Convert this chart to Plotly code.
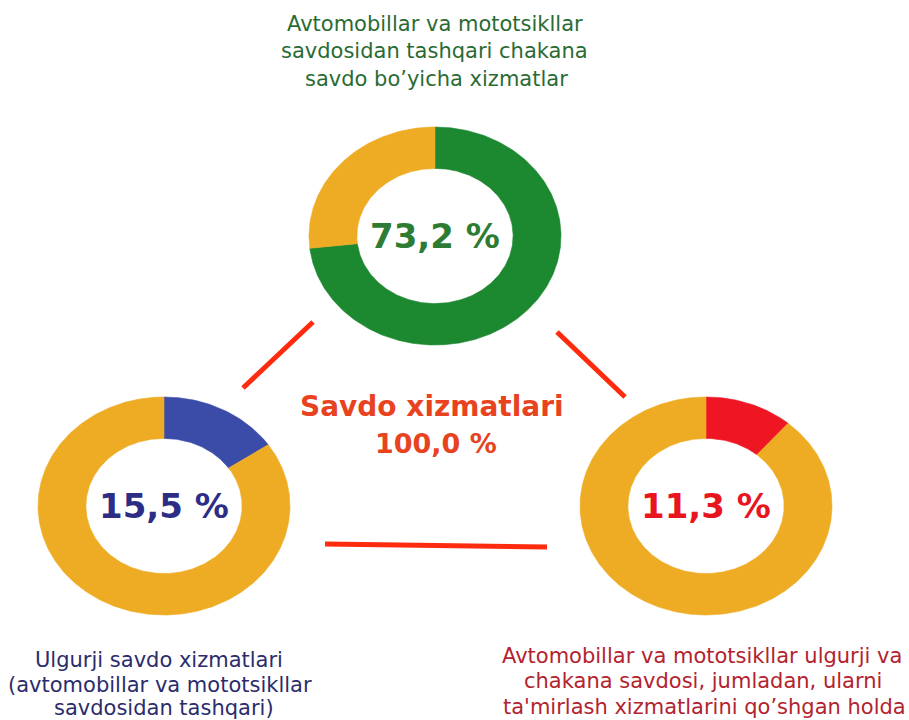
import numpy as np
import plotly.graph_objects as go

# ---------------- data ----------------
segment_titles = [
    ["Avtomobillar va mototsikllar", "savdosidan tashqari chakana", "savdo bo’yicha xizmatlar"],
    ["Ulgurji savdo xizmatlari", "(avtomobillar va mototsikllar", "savdosidan tashqari)"],
    ["Avtomobillar va mototsikllar ulgurji va", "chakana savdosi, jumladan, ularni",
     "ta'mirlash xizmatlarini qo’shgan holda"],
]
segment_shares = [73.2, 15.5, 11.3]
total_name = "Savdo xizmatlari"
total_share = 100.0

# ---------------- styles ----------------
W, H = 909, 720
slice_colors = ["#1C8830", "#3B4BA8", "#EF1624"]
rest_color = "#EEAC25"
value_colors = ["#2E7B33", "#2D2D86", "#E8151F"]
title_colors = ["#2A6B34", "#2B2C6B", "#B3232E"]
total_color = "#E8431F"
connector_color = "#FF2B0F"
centers_px = [(435, 236), (164, 506), (706, 506)]
RX, RY = 126, 109
HOLE = 0.62
PAD = 1.03
FONT = "DejaVu Sans"
title_lines_px = [
    [(435, 24), (434, 51), (436, 79)],
    [(159, 660), (160, 685), (164, 708)],
    [(702, 656), (703, 681), (704, 707)],
]


def fmt(v):
    return f"{v:.1f}".replace(".", ",") + " %"


fig = go.Figure()
layout_axes = {}
annotations = []

for i, share in enumerate(segment_shares):
    s = "" if i == 0 else str(i + 1)
    cx, cy = centers_px[i]
    layout_axes["xaxis" + s] = dict(
        domain=[(cx - RX * PAD) / W, (cx + RX * PAD) / W], range=[-PAD, PAD],
        visible=False, fixedrange=True, anchor="y" + s)
    layout_axes["yaxis" + s] = dict(
        domain=[1 - (cy + RY * PAD) / H, 1 - (cy - RY * PAD) / H], range=[-PAD, PAD],
        visible=False, fixedrange=True, anchor="x" + s)
    bounds = [0.0, share, 100.0]
    colors = [slice_colors[i], rest_color]
    for j in range(2):
        t0 = bounds[j] / 100 * 2 * np.pi
        t1 = bounds[j + 1] / 100 * 2 * np.pi
        n = max(3, int(np.ceil((t1 - t0) / (2 * np.pi) * 400)))
        th = np.linspace(t0, t1, n)
        xo, yo = np.sin(th), np.cos(th)
        xi, yi = HOLE * np.sin(th[::-1]), HOLE * np.cos(th[::-1])
        fig.add_trace(go.Scatter(
            x=np.concatenate([xo, xi, xo[:1]]), y=np.concatenate([yo, yi, yo[:1]]),
            mode="lines", fill="toself", fillcolor=colors[j],
            line=dict(color=colors[j], width=0.6),
            xaxis="x" + s, yaxis="y" + s, hoverinfo="skip", showlegend=False))
    annotations.append(dict(
        x=0, y=0, xref="x" + s, yref="y" + s, text=fmt(share), showarrow=False,
        xanchor="center", yanchor="middle",
        font=dict(family=FONT, size=34, color=value_colors[i], weight="bold")))
    for line, (lx, ly) in zip(segment_titles[i], title_lines_px[i]):
        annotations.append(dict(
            x=lx / W, y=1 - ly / H, xref="paper", yref="paper", text=line,
            showarrow=False, xanchor="center", yanchor="middle",
            font=dict(family=FONT, size=21, color=title_colors[i])))

annotations.append(dict(
    x=432 / W, y=1 - 406 / H, xref="paper", yref="paper", text=total_name,
    showarrow=False, xanchor="center", yanchor="middle",
    font=dict(family=FONT, size=28, color=total_color, weight="bold")))
annotations.append(dict(
    x=436 / W, y=1 - 443 / H, xref="paper", yref="paper", text=fmt(total_share),
    showarrow=False, xanchor="center", yanchor="middle",
    font=dict(family=FONT, size=27, color=total_color, weight="bold")))

connectors_px = [((313, 322), (243, 388)), ((557, 332), (625, 397)), ((325, 544), (547, 547))]
shapes = []
for (x0, y0), (x1, y1) in connectors_px:
    shapes.append(dict(type="line", xref="paper", yref="paper",
                       x0=x0 / W, y0=1 - y0 / H, x1=x1 / W, y1=1 - y1 / H,
                       line=dict(color=connector_color, width=5)))

fig.update_layout(
    width=W, height=H, margin=dict(l=0, r=0, t=0, b=0),
    paper_bgcolor="white", plot_bgcolor="rgba(0,0,0,0)",
    showlegend=False, annotations=annotations, shapes=shapes, **layout_axes)

fig.write_html("out.html", config={"displayModeBar": False},
               post_script="document.body.style.margin='0';document.body.style.overflow='hidden';")
